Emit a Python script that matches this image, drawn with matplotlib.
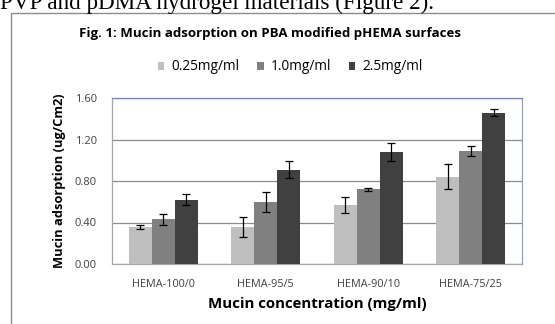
import matplotlib.pyplot as plt
import matplotlib.patches as mpatches
import numpy as np

groups = ['HEMA-100/0', 'HEMA-95/5', 'HEMA-90/10', 'HEMA-75/25']
series = ['0.25mg/ml', '1.0mg/ml', '2.5mg/ml']
vals_025 = [0.36, 0.36, 0.57, 0.84]
err_025 = [0.02, 0.095, 0.075, 0.12]
vals_10 = [0.43, 0.60, 0.72, 1.09]
err_10 = [0.055, 0.095, 0.015, 0.05]
vals_25 = [0.62, 0.91, 1.08, 1.46]
err_25 = [0.055, 0.085, 0.09, 0.035]
yticks = [0.0, 0.4, 0.8, 1.2, 1.6]

colors = ['#bfbfbf', '#808080', '#404040']
font = 'Open Sans'

W, H = 555, 324
fig = plt.figure(figsize=(W / 100, H / 100), dpi=100)

# page text cut off at the top
fig.text(0 / W, 1 - 9 / H, 'PVP and pDMA hydrogel materials (Figure 2).',
         family='Liberation Serif', fontsize=16.7, va='baseline', ha='left')

# chart frame
fig.patches.append(mpatches.Rectangle((11 / W, -0.1), 1.2, 1 - 13 / H + 0.1,
                                      transform=fig.transFigure, fill=False,
                                      edgecolor='#8c8c8c', lw=1.0))

ax = fig.add_axes([112 / W, 1 - 264 / H, (522 - 112) / W, (264 - 98) / H])
x = np.arange(len(groups))
bw = 0.224
ekw = dict(ecolor='black', elinewidth=0.9, capsize=3, capthick=0.9)
for i, (v, e) in enumerate([(vals_025, err_025), (vals_10, err_10), (vals_25, err_25)]):
    ax.bar(x + (i - 1) * bw, v, bw, yerr=e, color=colors[i], error_kw=ekw,
           zorder=3, label=series[i])

ax.set_xlim(-0.5, 3.5)
ax.set_ylim(0, 1.6)
ax.set_yticks(yticks)
ax.set_yticklabels(['%.2f' % t for t in yticks], family=font, fontsize=8)
ax.set_xticks(x)
ax.set_xticklabels(groups, family=font, fontsize=7.8)
ax.tick_params(axis='y', length=0, pad=11, colors='#404040')
ax.tick_params(axis='x', length=0, pad=11, colors='#404040')
ax.yaxis.grid(True, color='#8c8c8c', lw=0.9, zorder=0)
ax.spines['top'].set_color('#6f87b8')
ax.spines['right'].set_color('#8fa0c4')
ax.spines['left'].set_color('#a6a6a6')
ax.spines['bottom'].set_color('#a6a6a6')
for s in ax.spines.values():
    s.set_linewidth(0.9)

ax.set_ylabel('Mucin adsorption (ug/Cm2)', family=font, fontsize=9.3,
              fontweight='bold', labelpad=6)
ax.set_xlabel('Mucin concentration (mg/ml)', family=font, fontsize=10.8,
              fontweight='bold', labelpad=5)

fig.text(270 / W, 1 - 33 / H, 'Fig. 1: Mucin adsorption on PBA modified pHEMA surfaces',
         family=font, fontsize=9.5, fontweight='bold', ha='center', va='center')

fig.legend(loc='center', bbox_to_anchor=(290 / W, 1 - 67 / H), ncol=3,
           frameon=False, prop={'family': font, 'size': 9.8},
           handlelength=0.5, handleheight=0.5, handletextpad=0.5,
           columnspacing=1.3)

fig.savefig('out.png', dpi=100)
